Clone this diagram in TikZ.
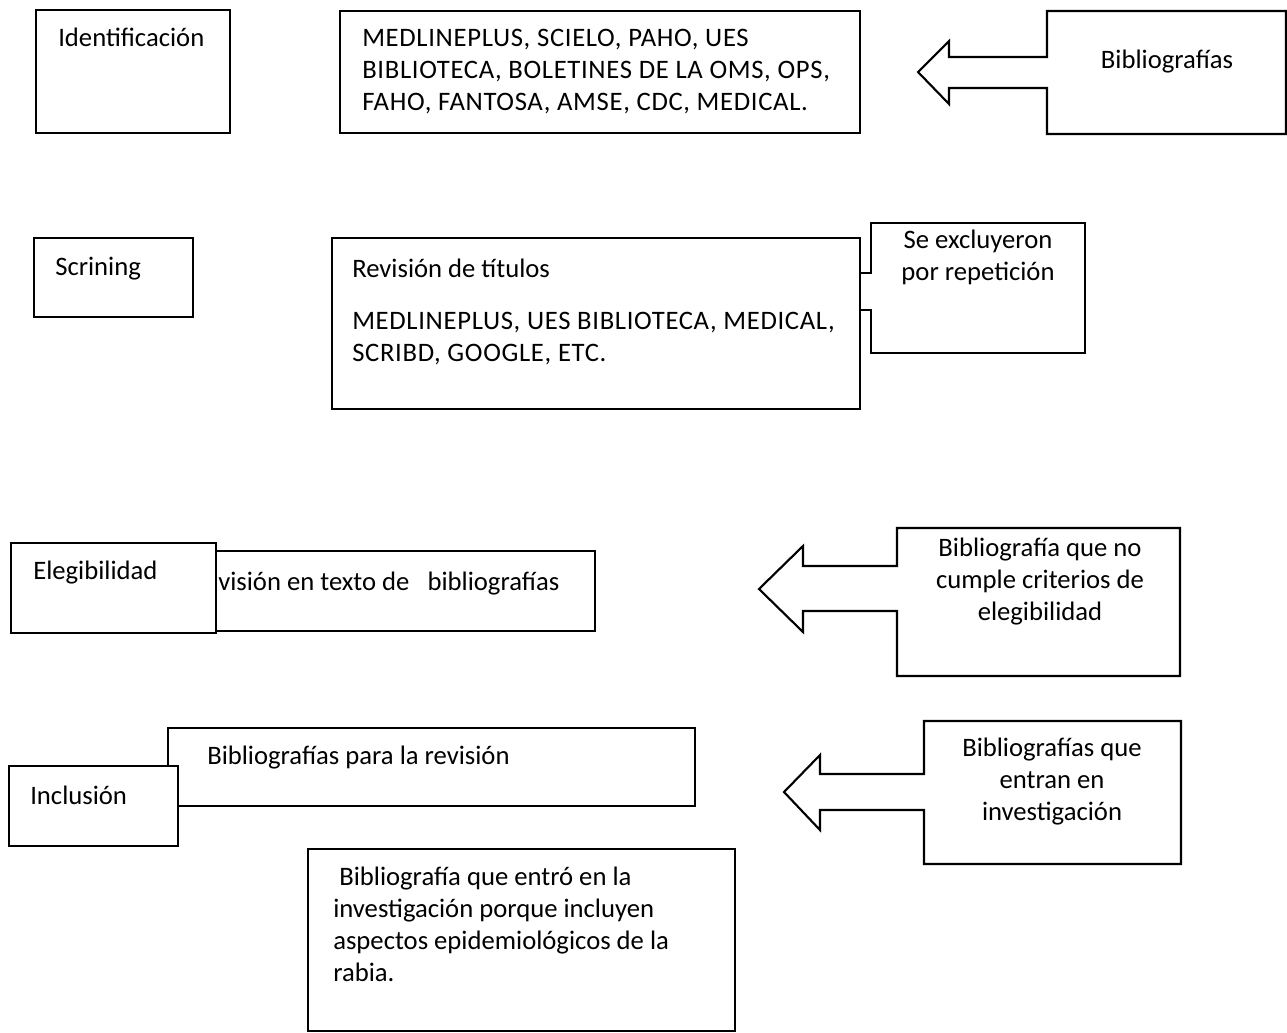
\documentclass[tikz,border=0pt]{standalone}
\usepackage{fontspec}
\setmainfont{Carlito}
\newfontfamily\spacedcaps{Carlito}[LetterSpace=2.5]
\frenchspacing
\begin{document}
\begin{tikzpicture}[x=0.75pt,y=-0.75pt,
  boxline/.style={draw=black,line width=1.6pt,fill=white,line join=miter},
  txt/.style={inner sep=0pt,font=\fontsize{20}{24}\selectfont\frenchspacing},
  ltxt/.style={txt,anchor=base west,align=flush left},
  captxt/.style={ltxt,font=\spacedcaps\fontsize{20}{24}\selectfont\frenchspacing},
  ctxt/.style={txt,anchor=base,align=flush center,text width=300}]
\useasboundingbox[fill=white] (0,0) rectangle (1287,1032);

% Row 1
\draw[boxline] (36,10) rectangle (230,133);
\node[ltxt] (ident) at (58,46) {Identificación};
\draw[boxline] (340,11) rectangle (860,133);
\node[captxt,text width=495] (fuentes) at (362,46) {MEDLINEPLUS, SCIELO, PAHO, UES\\BIBLIOTECA, BOLETINES DE LA OMS, OPS,\\FAHO, FANTOSA, AMSE, CDC, MEDICAL.};
\draw[boxline] (949,57) -- (1047,57) -- (1047,11) -- (1286,11) -- (1286,134) -- (1047,134) -- (1047,88) -- (949,88) -- (949,104) -- (918,72) -- (949,41) -- cycle;
\node[ctxt] (biblio) at (1167,68) {Bibliografías};

% Row 2
\draw[boxline] (34,238) rectangle (193,317);
\node[ltxt] (scr) at (55,275) {Scrining};
\draw[boxline] (860,273) -- (871,273) -- (871,223) -- (1085,223) -- (1085,353) -- (871,353) -- (871,310) -- (860,310);
\node[ctxt] (excl) at (978,248) {Se excluyeron\\por repetición};
\draw[boxline] (332,238) rectangle (860,409);
\node[ltxt] (revtit) at (352,277) {Revisión de títulos};
\node[captxt,text width=505] (fuentes2) at (352,329) {MEDLINEPLUS, UES BIBLIOTECA, MEDICAL,\\SCRIBD, GOOGLE, ETC.};

% Row 3
\draw[boxline] (170,551) rectangle (595,631);
\draw[boxline] (11,543) rectangle (216,633);
\node[ltxt] (eleg) at (33,579) {Elegibilidad};
\node[ltxt] (revtex) at (218,590) {visión en texto de \ \ bibliografías};
\draw[boxline] (803,566) -- (897,566) -- (897,528) -- (1180,528) -- (1180,676) -- (897,676) -- (897,611) -- (803,611) -- (803,632) -- (759,589) -- (803,546) -- cycle;
\node[ctxt] (nocumple) at (1040,556) {Bibliografía que no\\cumple criterios de\\elegibilidad};

% Row 4
\draw[boxline] (168,728) rectangle (695,806);
\node[ltxt] (parabib) at (207,764) {Bibliografías para la revisión};
\draw[boxline] (9,766) rectangle (178,846);
\node[ltxt] (incl) at (30,804) {Inclusión};
\draw[boxline] (820,774) -- (924,774) -- (924,721) -- (1181,721) -- (1181,864) -- (924,864) -- (924,810) -- (820,810) -- (820,830) -- (784,792) -- (820,755) -- cycle;
\node[ctxt] (entran) at (1052,756) {Bibliografías que\\entran en\\investigación};

% Bottom
\draw[boxline] (308,849) rectangle (735,1031);
\node[ltxt,text width=400] (final) at (333,885) {\ Bibliografía que entró en la\\investigación porque incluyen\\aspectos epidemiológicos de la\\rabia.};
\end{tikzpicture}
\end{document}
